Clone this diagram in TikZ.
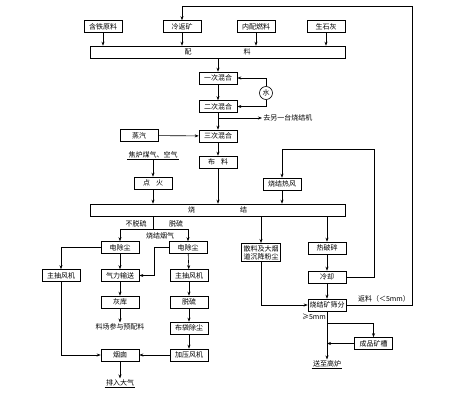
\documentclass[tikz,border=0pt]{standalone}
\usepackage{fontspec}
\newfontfamily\cjk{Noto Sans CJK SC}
\usetikzlibrary{arrows.meta}

\begin{document}
\begin{tikzpicture}[
  x=1pt, y=-1pt,
  line width=0.6pt,
  every node/.style={font=\cjk\fontsize{7}{8}\selectfont, inner sep=1pt},
  box/.style={draw, minimum width=38pt, minimum height=12pt},
  bar/.style={draw, minimum width=255pt, minimum height=12pt},
  flow/.style={draw, -{Stealth[length=4pt, width=3pt]}}
]
\useasboundingbox (0,0) rectangle (453,402);

\node[box] (hantie) at (103,26.5) {含铁原料};
\node[box] (lengfan) at (182,26.5) {冷返矿};
\node[box] (neipei) at (256,26.5) {内配燃料};
\node[box] (shihui) at (326,26.5) {生石灰};
\node[bar] (peiliao) at (217.5,52) {配\hspace{52pt}料};

\node[box] (hun1) at (218,78) {一次混合};
\node[box] (hun2) at (218,106.5) {二次混合};
\node[draw, circle, minimum size=13pt, inner sep=0pt] (shui) at (266,93) {水};
\coordinate (zhi) at (218,118);
\node[anchor=west] (qulingyi) at (262,118) {去另一台烧结机};
\node[box] (hun3) at (218,136) {三次混合};
\node[box] (zhengqi) at (139,135.5) {蒸汽};
\node[box] (buliao) at (218,162) {布\hspace{6pt}料};
\node (meiqi) at (153,155) {焦炉煤气、空气};
\node[box] (dianhuo) at (153,183) {点\hspace{6pt}火};
\node[box] (refeng) at (282,184) {烧结热风};
\node[bar] (shaojie) at (217.5,210) {烧\hspace{45pt}结};

% flue gas
\coordinate (fen) at (153,229);
\node (butuo) at (136,224) {不脱硫};
\node (tuo) at (176,224) {脱硫};
\node (yanqi) at (160,236) {烧结烟气};
\node[box] (chen1) at (120,247.5) {电除尘};
\node[box] (chen2) at (188,247.5) {电除尘};
\node[box] (zhuchou1) at (61,275.5) {主抽风机};
\node[box] (qili) at (120,275.5) {气力输送};
\node[box] (zhuchou2) at (189,275.5) {主抽风机};
\node[box] (huiku) at (120,302) {灰库};
\node[box] (tuoliu) at (189,302) {脱硫};
\node (liaochang) at (120,327) {料场参与预配料};
\node[box] (budai) at (189,328) {布袋除尘};
\node[box] (yancong) at (120,355) {烟囱};
\node[box] (jiaya) at (189,355) {加压风机};
\node (daqi) at (120,383) {排入大气};

% sinter
\node[box, align=center, inner sep=2pt] (sanliao) at (261,252.5) {散料及大烟\\道沉降粉尘};
\node[box] (posui) at (327,248) {热破碎};
\node[box] (lengque) at (327,277) {冷却};
\node[box] (shaifen) at (327,305) {烧结矿筛分};
\node (fanliao) at (384,299) {返料（＜5mm）};
\node (dayu) at (314,317) {≥5mm};
\coordinate (shaifenzhi) at (327,323);
\node[box] (chengpin) at (373.5,343.5) {成品矿槽};
\node (gaolu) at (327,364) {送至高炉};
\coordinate (refengjiao) at (374,149);
\coordinate (fanjiao) at (412,6);

\foreach \n in {hantie,lengfan,neipei,shihui}
  \draw[flow] (\n) -- (\n |- peiliao.north);
\draw[flow] (peiliao.south -| hun1) -- (hun1);
\draw[flow] (hun1) -- (hun2);
\draw[flow] (shui.north) |- (hun1.east);
\draw[flow] (shui.south) |- (hun2.east);
\draw[flow] (hun2) -- (hun3);
\draw[flow] (zhi) -- (qulingyi.west);
\draw[flow] (zhengqi) -- (hun3);
\draw[flow] (hun3) -- (buliao);
\draw[flow] (buliao) -- (buliao |- shaojie.north);
\draw (meiqi.south west) -- (meiqi.south east);
\draw[flow] (meiqi.south) -- (dianhuo);
\draw[flow] (dianhuo) -- (dianhuo |- shaojie.north);
\draw[flow] (refeng) -- (refeng |- shaojie.north);

\draw (shaojie.south -| dianhuo) -- (fen);
\draw[flow] (fen) -| (chen1);
\draw[flow] (fen) -| (chen2);
\draw[flow] (chen1.west) -| (zhuchou1);
\draw[flow] (chen1) -- (qili);
\draw[flow] (chen2.west) -- ++(-14,0) |- (qili.east);
\draw[flow] (chen2) -- (zhuchou2);
\draw[flow] (qili) -- (huiku);
\draw[flow] (huiku) -- (liaochang);
\draw[double, double distance=0.8pt, line width=0.4pt] (liaochang.south west) -- (liaochang.south east);
\draw[flow] (zhuchou2) -- (tuoliu);
\draw[flow] (tuoliu) -- (budai);
\draw[flow] (budai) -- (jiaya);
\draw[flow] (jiaya) -- (yancong);
\draw[flow] (zhuchou1) |- (yancong.west);
\draw[flow] (yancong) -- (daqi);
\draw (daqi.south west) -- (daqi.south east);

\draw[flow] (shaojie.south -| sanliao) -- (sanliao);
\draw[flow] (shaojie.south -| posui) -- (posui);
\draw[flow] (posui) -- (lengque);
\draw[flow] (lengque) -- (shaifen);
\draw[flow] (sanliao) |- (shaifen.west);
\draw[flow] (lengque.east) -| (refengjiao) -| (refeng);
\draw[flow] (shaifen.east) -| (fanjiao) -| (lengfan);
\draw[flow] (shaifen) -- (gaolu);
\draw[flow] (shaifenzhi) -| (chengpin);
\draw[flow] (chengpin.west) -- (chengpin.west -| shaifen);
\draw (gaolu.south west) -- (gaolu.south east);
\end{tikzpicture}
\end{document}
